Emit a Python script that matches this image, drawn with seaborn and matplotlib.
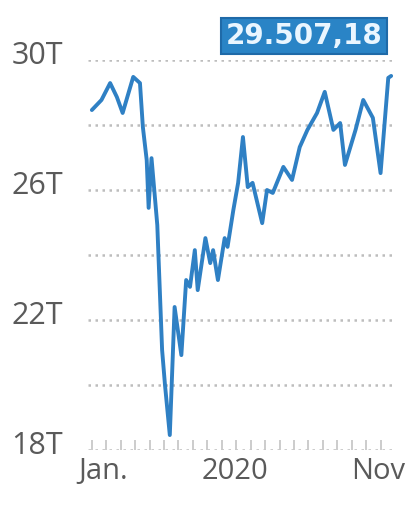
import matplotlib
matplotlib.use("Agg")
import matplotlib.pyplot as plt
import matplotlib.transforms as mtransforms
import seaborn as sns
import pandas as pd

dates = ["2020-01-02", "2020-01-12", "2020-01-21", "2020-01-28", "2020-02-03",
         "2020-02-14", "2020-02-21", "2020-02-24", "2020-02-28", "2020-03-01",
         "2020-03-04", "2020-03-10", "2020-03-15", "2020-03-18", "2020-03-23",
         "2020-03-28", "2020-04-04", "2020-04-09", "2020-04-13", "2020-04-18",
         "2020-04-21", "2020-04-29", "2020-05-04", "2020-05-07", "2020-05-12",
         "2020-05-19", "2020-05-22", "2020-05-28", "2020-06-02", "2020-06-07",
         "2020-06-12", "2020-06-17", "2020-06-27", "2020-07-02", "2020-07-08",
         "2020-07-19", "2020-07-28", "2020-08-05", "2020-08-13", "2020-08-23",
         "2020-08-31", "2020-09-09", "2020-09-16", "2020-09-21", "2020-10-02",
         "2020-10-10", "2020-10-20", "2020-10-28", "2020-11-05", "2020-11-08"]
values = [28.46, 28.77, 29.29, 28.86, 28.37,
          29.48, 29.29, 27.94, 26.92, 25.45,
          26.98, 24.92, 21.08, 20.00, 18.46,
          22.40, 20.92, 23.23, 23.02, 24.15,
          22.92, 24.52, 23.75, 24.15, 23.23,
          24.52, 24.25, 25.38, 26.22, 27.63,
          26.09, 26.22, 24.98, 26.00, 25.91,
          26.71, 26.31, 27.32, 27.85, 28.37,
          29.02, 27.85, 28.06, 26.77, 27.85,
          28.77, 28.22, 26.52, 29.45, 29.51]
y_ticks = [30, 26, 22, 18]
y_tick_labels = ["30T", "26T", "22T", "18T"]
x_tick_dates = ["2020-01-14", "2020-05-30", "2020-10-25"]
x_tick_labels = ["Jan.", "2020", "Nov"]
last_label = "29.507,18"

df = pd.DataFrame({"date": pd.to_datetime(dates), "value": values})

sns.set_style("white")
plt.rcParams["font.family"] = ["Open Sans", "DejaVu Sans"]

fig = plt.figure(figsize=(4.06, 5.25), dpi=100)
ax = fig.add_axes([88 / 406, 1 - 450 / 525, (395 - 88) / 406, (450 - 60) / 525])

sns.lineplot(data=df, x="date", y="value", ax=ax, color="#2f80c4", linewidth=2.8)

ax.set_ylim(18, 30)
ax.set_xlim(pd.Timestamp("2019-12-29"), pd.Timestamp("2020-11-12"))

for g in [18, 20, 22, 24, 26, 28, 30]:
    ax.axhline(g, color="#bdbdbd", linestyle=(0, (1.0, 1.8)), linewidth=1.8, zorder=0)

for s in ax.spines.values():
    s.set_visible(False)

ax.set_yticks(y_ticks)
ax.set_yticklabels(y_tick_labels)
ax.set_xticks(pd.to_datetime(x_tick_dates))
ax.set_xticklabels(x_tick_labels)
ax.set_xticks(pd.date_range("2020-01-02", "2020-11-10", freq="15D"), minor=True)
ax.tick_params(axis="y", length=0, pad=18, labelsize=22, labelcolor="#5a5a5a")
ax.tick_params(axis="x", which="major", length=0, pad=5, labelsize=21, labelcolor="#5a5a5a")
ax.tick_params(axis="x", which="minor", bottom=True, direction="in", length=7, width=1.3, color="#c8c8c8")
ax.set_xlabel("")
ax.set_ylabel("")

off = mtransforms.ScaledTranslation(0, 7 / 100, fig.dpi_scale_trans)
for lab in ax.get_yticklabels():
    lab.set_transform(lab.get_transform() + off)

fig.text(304 / 406, 1 - 36 / 525, last_label, ha="center", va="center",
         fontsize=20, fontweight="bold", color="#eaf6ff", family="DejaVu Sans",
         bbox=dict(boxstyle="square,pad=0.16", facecolor="#2a84c6", edgecolor="#1f6aa8", linewidth=1.5))

fig.savefig("out.png", dpi=100, facecolor="white")
